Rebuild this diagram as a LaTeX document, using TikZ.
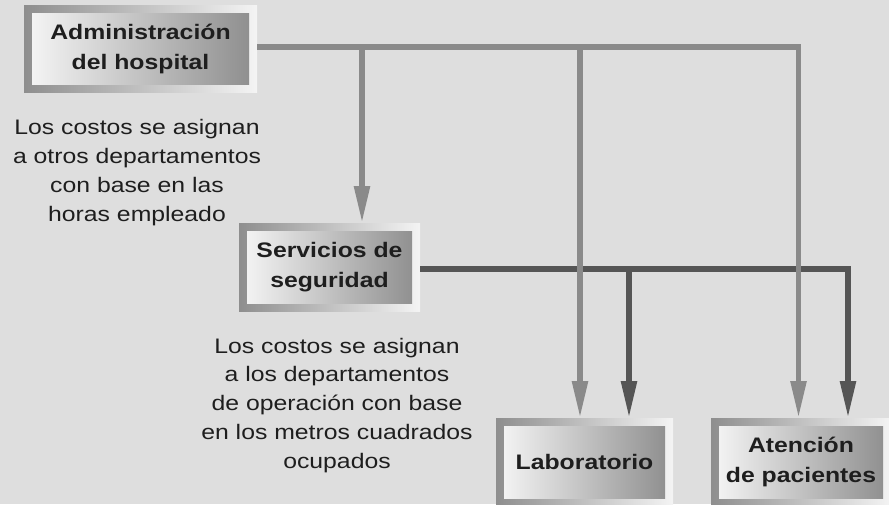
\documentclass[tikz,border=0pt]{standalone}
\usepackage{fontspec}
\setmainfont{Liberation Sans}[FakeStretch=1.18]
\usetikzlibrary{arrows.meta}
\definecolor{bg}{HTML}{DEDEDE}
\definecolor{lgray}{HTML}{8A8A8A}
\definecolor{dgray}{HTML}{555555}
\definecolor{frameL}{HTML}{8E8E8E}
\definecolor{frameR}{HTML}{F4F4F4}
\definecolor{inL}{HTML}{F7F7F7}
\definecolor{inR}{HTML}{8C8C8C}
\definecolor{txt}{HTML}{1E1E1E}
\tikzset{
  dept/.style={rectangle, inner sep=0pt, outer sep=0pt,
    left color=frameL, right color=frameR,
    path picture={\shade[left color=inL, right color=inR]
      ([shift={(8pt,-8.5pt)}]path picture bounding box.north west) rectangle
      ([shift={(-8pt,8pt)}]path picture bounding box.south east);},
    font=\fontsize{21}{30}\selectfont\bfseries, align=center, text=txt},
  note/.style={font=\fontsize{21}{28.7}\selectfont, align=center, text=txt, inner sep=0pt},
  gline/.style={draw=lgray, line width=5.5pt},
  dline/.style={draw=dgray, line width=5.5pt},
  gtip/.style={-{Triangle[width=15pt,length=37pt,fill=lgray]}},
  dtip/.style={-{Triangle[width=15pt,length=37pt,fill=dgray]}}
}
\begin{document}
\begin{tikzpicture}[x=1pt,y=-1pt]
\fill[bg] (0,0) rectangle (889,504);
\useasboundingbox (0,0) rectangle (889,504);

\node[dept, minimum width=233pt, minimum height=87pt] (admin) at (140.5,48.5) {Administración\\del hospital};
\node[dept, minimum width=181pt, minimum height=88pt] (serv) at (329.5,267) {Servicios de\\seguridad};
\node[dept, minimum width=177pt, minimum height=88pt] (lab) at (584.5,462) {Laboratorio};
\node[dept, minimum width=180pt, minimum height=88pt] (aten) at (801,462) {Atención\\de pacientes};

\node[note, anchor=base] (n1) at (137,221) {Los costos se asignan\\a otros departamentos\\con base en las\\horas empleado};
\node[note, anchor=base] (n2) at (337,468) {Los costos se asignan\\a los departamentos\\de operación con base\\en los metros cuadrados\\ocupados};

\coordinate (aout) at ([yshift=1.5pt]admin.east);
\coordinate (sout) at ([yshift=-2pt]serv.east);
\coordinate (labg) at ([xshift=-4.5pt]lab.north);
\coordinate (labd) at ([xshift=44.5pt]lab.north);
\coordinate (ateng) at ([xshift=-2.5pt]aten.north);
\coordinate (atend) at ([xshift=47pt]aten.north);
\coordinate (servin) at ([xshift=32.5pt]serv.north);

% dark connectors (under gray ones)
\draw[dline, dtip] (sout) -| (atend);
\draw[dline, dtip] (labd |- sout) -- (labd);

% gray connectors
\draw[gline, gtip] (aout) -| (ateng);
\draw[gline, gtip] (labg |- aout) -- (labg);
\draw[gline, gtip] (servin |- aout) -- (servin);
\end{tikzpicture}
\end{document}
